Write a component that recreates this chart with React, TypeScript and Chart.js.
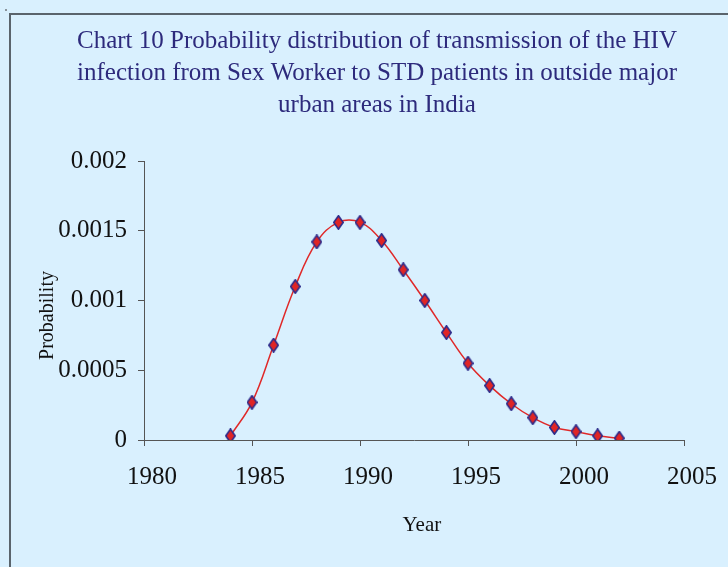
import React, { useEffect, useRef } from "react";
import { Chart, registerables } from "chart.js";

Chart.register(...registerables);

const titleLines = [
  "Chart 10 Probability distribution of transmission of the HIV",
  "infection from Sex Worker to STD patients in outside major",
  "urban areas in India",
];
const years = [1984, 1985, 1986, 1987, 1988, 1989, 1990, 1991, 1992, 1993, 1994, 1995, 1996, 1997, 1998, 1999, 2000, 2001, 2002];
const probabilities = [
  0.00003, 0.00027, 0.00068, 0.0011, 0.00142, 0.00156, 0.00156, 0.00143, 0.00122, 0.001,
  0.00077, 0.00055, 0.00039, 0.00026, 0.00016, 0.00009, 0.00006, 0.00003, 0.000013,
];
const xTitle = "Year";
const yTitle = "Probability";

const BG = "#D9F0FE";
const SERIF = "'Liberation Serif', 'Times New Roman', serif";

function makeDiamond(): HTMLCanvasElement {
  const c = document.createElement("canvas");
  c.width = 11;
  c.height = 15;
  const g = c.getContext("2d")!;
  g.beginPath();
  g.moveTo(5.5, 0.8);
  g.lineTo(10.2, 7.5);
  g.lineTo(5.5, 14.2);
  g.lineTo(0.8, 7.5);
  g.closePath();
  g.fillStyle = "#E02525";
  g.fill();
  g.lineWidth = 1.6;
  g.strokeStyle = "#2B2A8A";
  g.stroke();
  return c;
}

const framePlugin = {
  id: "frame",
  beforeDraw(chart: any) {
    const { ctx, width, height } = chart;
    ctx.save();
    ctx.fillStyle = BG;
    ctx.fillRect(0, 0, width, height);
    ctx.strokeStyle = "#5A646C";
    ctx.lineWidth = 2;
    ctx.beginPath();
    ctx.moveTo(10, height);
    ctx.lineTo(10, 14);
    ctx.lineTo(width, 14);
    ctx.stroke();
    ctx.fillStyle = "#8A949C";
    ctx.fillRect(5, 9, 2, 2);
    ctx.restore();
  },
};

export default function App() {
  const ref = useRef<HTMLCanvasElement | null>(null);
  useEffect(() => {
    if (!ref.current) return;
    const diamond = makeDiamond();
    const chart = new Chart(ref.current, {
      type: "line",
      data: {
        datasets: [
          {
            data: years.map((y, i) => ({ x: y, y: probabilities[i] })),
            borderColor: "#E02828",
            borderWidth: 1.5,
            tension: 0.4,
            pointStyle: diamond as any,
            pointRadius: 6,
            fill: false,
            yAxisID: "y",
          },
        ],
      },
      options: {
        responsive: false,
        maintainAspectRatio: false,
        animation: false,
        layout: { padding: { left: 26, right: 0, top: 0, bottom: 0 } },
        plugins: {
          legend: { display: false },
          tooltip: { enabled: false },
          title: {
            display: true,
            text: titleLines,
            color: "#2D2A7C",
            font: { family: SERIF, size: 25, lineHeight: 1.28, weight: "normal" },
            padding: { top: 25, bottom: 40 },
          },
        },
        scales: {
          x: {
            type: "linear",
            min: 1980,
            max: 2005,
            ticks: {
              stepSize: 5,
              color: "#111",
              font: { family: SERIF, size: 25 },
              padding: 16,
              labelOffset: 8,
              maxRotation: 0,
              callback: (v: any) => String(v),
            },
            grid: { display: true, drawOnChartArea: false, tickLength: 6, color: "#555" },
            border: { display: true, color: "#555", width: 1 },
            title: {
              display: true,
              text: "   " + xTitle,
              color: "#111",
              font: { family: SERIF, size: 21 },
              padding: { top: 0, bottom: 29 },
            },
            afterFit: (s: any) => {
              s.height = 127;
            },
          },
          y: {
            type: "linear",
            position: "left",
            min: 0,
            max: 0.002,
            ticks: {
              stepSize: 0.0005,
              color: "#111",
              font: { family: SERIF, size: 25 },
              padding: 11,
              callback: (v: any) => String(Number(Number(v).toPrecision(6))),
            },
            grid: { display: true, drawOnChartArea: false, tickLength: 6, color: "#555" },
            border: { display: true, color: "#555", width: 1 },
            title: {
              display: true,
              text: yTitle + "      ",
              color: "#111",
              font: { family: SERIF, size: 20 },
              padding: { top: 10, bottom: 0 },
            },
            afterFit: (s: any) => {
              s.width = 118;
            },
          },
          yR: {
            type: "linear",
            position: "right",
            display: true,
            ticks: { display: false },
            grid: { display: false },
            border: { display: false },
            afterFit: (s: any) => {
              s.width = 44;
            },
          },
        },
      },
      plugins: [framePlugin],
    });
    return () => chart.destroy();
  }, []);
  return (
    <div style={{ position: "fixed", left: 0, top: 0, width: 728, height: 567, background: BG }}>
      <canvas ref={ref} width={728} height={567} style={{ width: 728, height: 567, display: "block" }} />
    </div>
  );
}
